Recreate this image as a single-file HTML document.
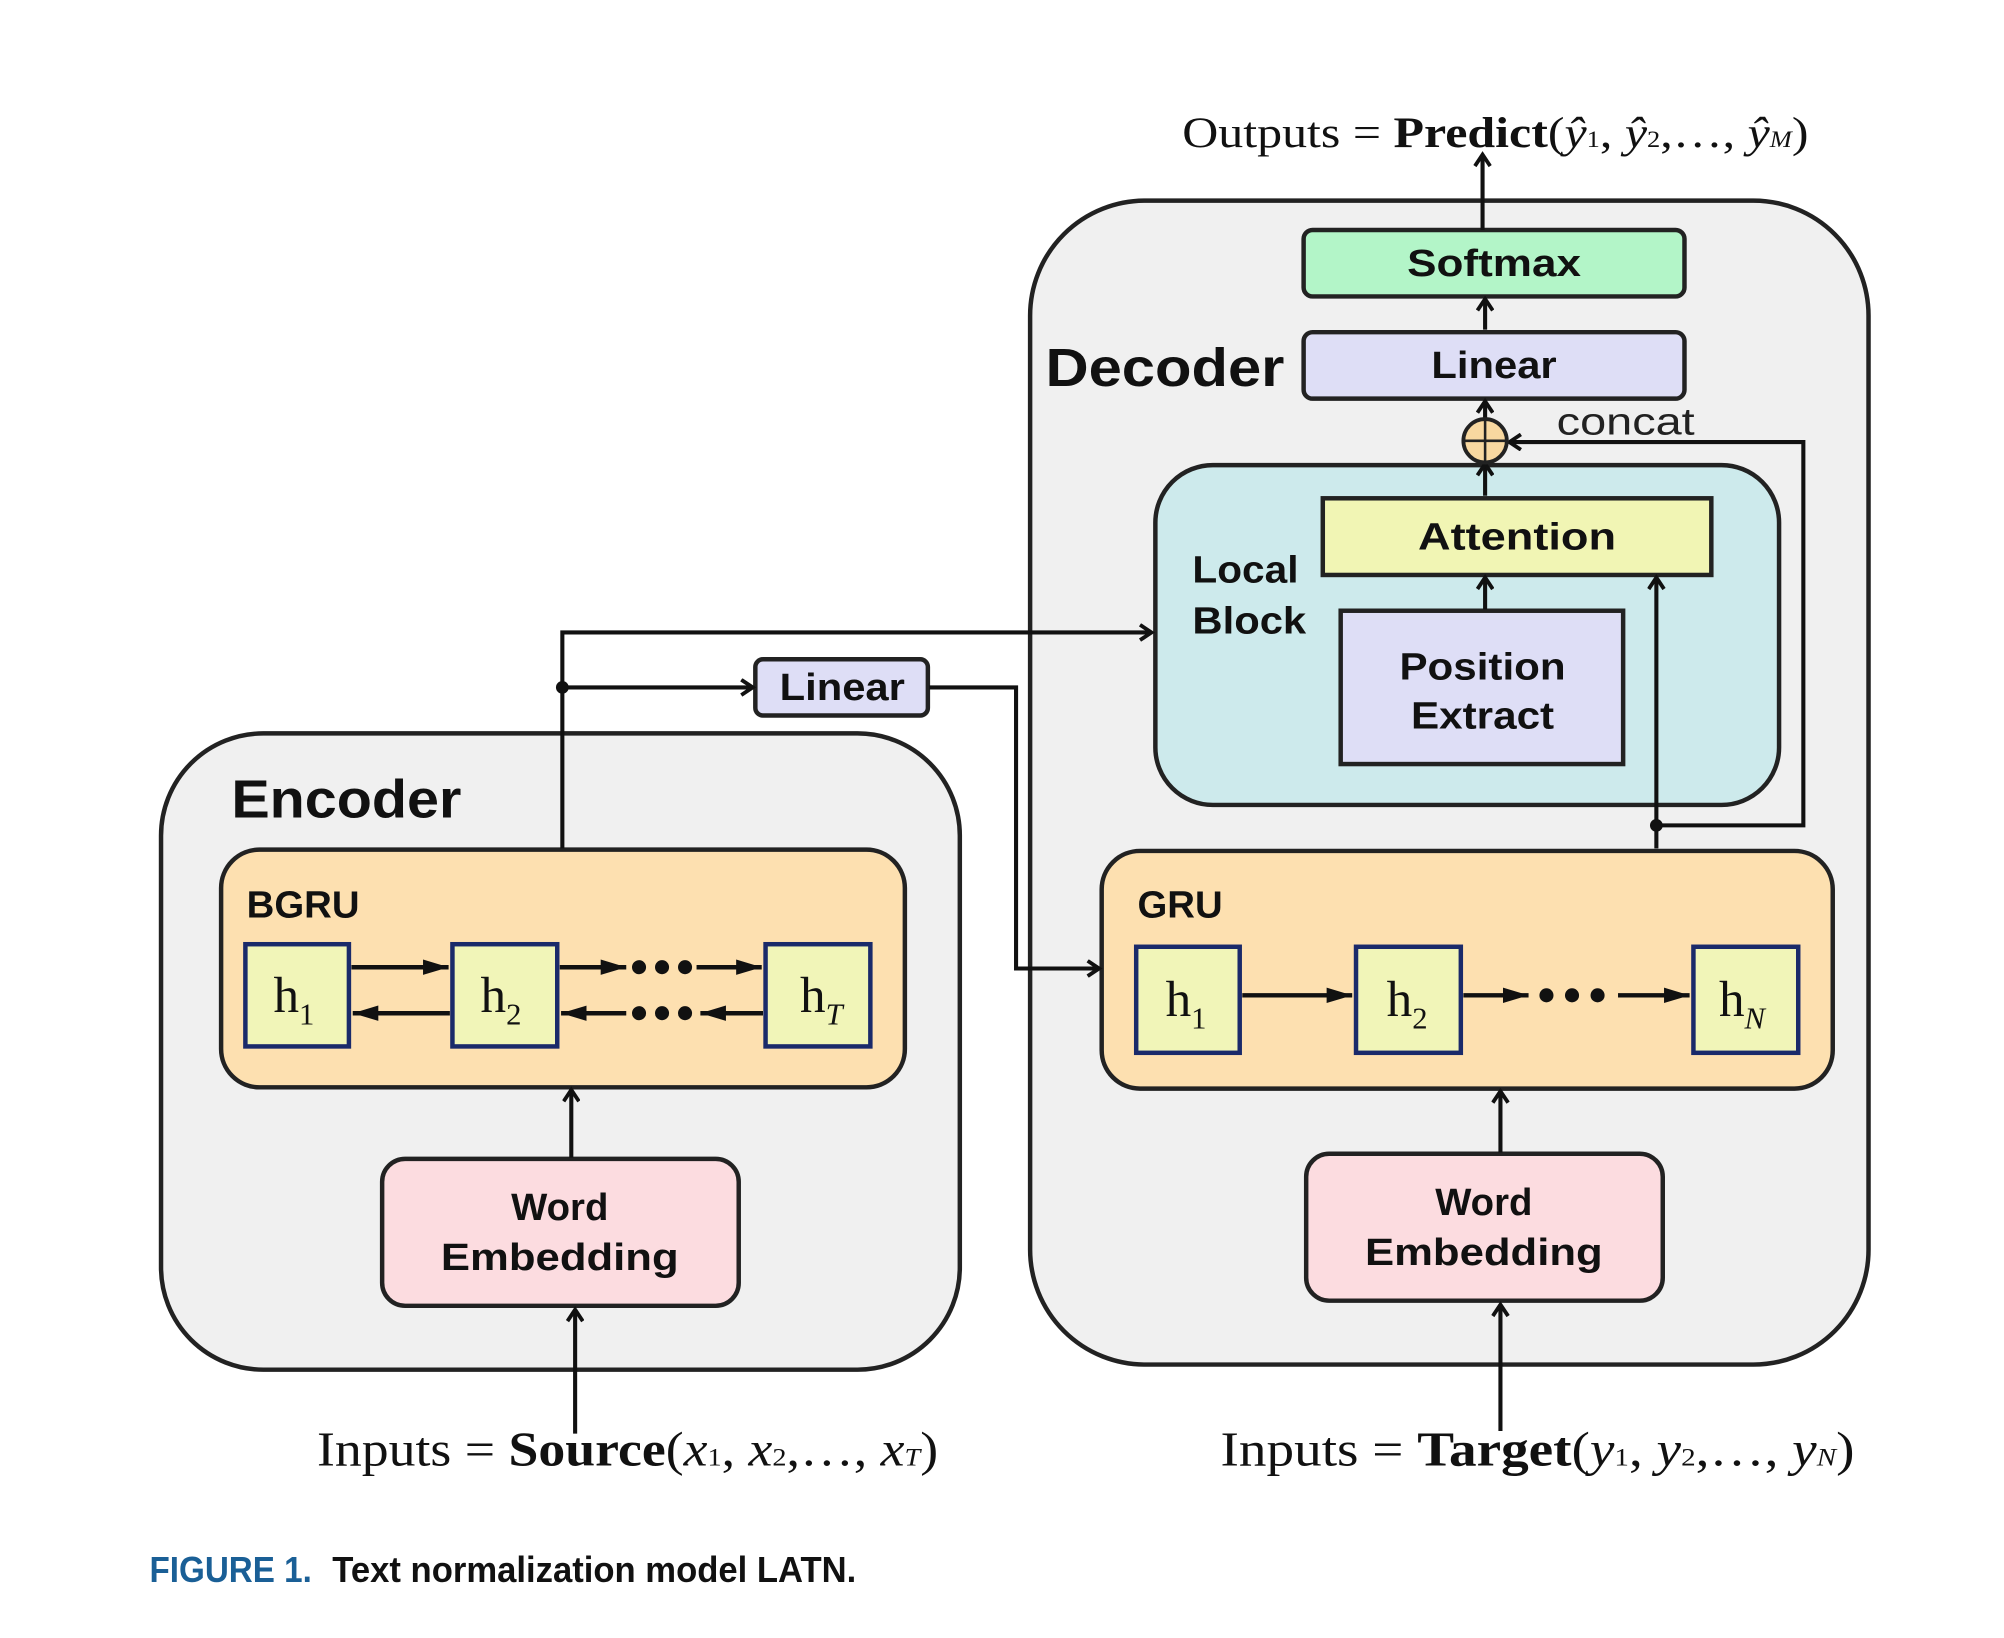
<!DOCTYPE html>
<html><head><meta charset="utf-8"><style>
html,body{margin:0;padding:0;background:#fff;}
svg{display:block;}
.b{font-family:"Liberation Sans",sans-serif;font-weight:bold;fill:#111;}
.s{font-family:"Liberation Serif",serif;fill:#111;}
</style></head><body>
<svg width="2004" height="1638" viewBox="0 0 1568 1282" preserveAspectRatio="none" xmlns="http://www.w3.org/2000/svg">
<defs>
<marker id="o" markerWidth="14" markerHeight="14" refX="11" refY="7" orient="auto" markerUnits="userSpaceOnUse">
<path d="M2,1 L11,7 L2,13" fill="none" stroke="#111" stroke-width="3"/></marker>
<marker id="f" markerWidth="22" markerHeight="14" refX="20" refY="7" orient="auto" markerUnits="userSpaceOnUse">
<path d="M0,1 L20,7 L0,13 Z" fill="#111"/></marker>
</defs>
<rect width="1568" height="1282" fill="#fff"/>
<rect x="806" y="157" width="656" height="911" rx="90" fill="#f0f0f0" stroke="#222" stroke-width="3.5"/>
<rect x="126" y="574" width="625" height="498" rx="80" fill="#f0f0f0" stroke="#222" stroke-width="3.5"/>
<text x="925" y="115" class="s" font-size="34" textLength="490" lengthAdjust="spacingAndGlyphs">Outputs = <tspan font-weight="bold">Predict</tspan>(<tspan font-style="italic">ŷ</tspan><tspan font-size="18">1</tspan>, <tspan font-style="italic">ŷ</tspan><tspan font-size="18">2</tspan>,…, <tspan font-style="italic">ŷ</tspan><tspan font-size="18" font-style="italic">M</tspan>)</text>
<rect x="1020" y="180" width="298" height="52" rx="7" fill="#b3f5c8" stroke="#222" stroke-width="3.5"/>
<text x="1169" y="216" class="b" font-size="30" text-anchor="middle" textLength="136" lengthAdjust="spacingAndGlyphs">Softmax</text>
<rect x="1020" y="260" width="298" height="52" rx="7" fill="#dedef6" stroke="#222" stroke-width="3.5"/>
<text x="1169" y="296" class="b" font-size="30" text-anchor="middle" textLength="98" lengthAdjust="spacingAndGlyphs">Linear</text>
<text x="818" y="302" class="b" font-size="42" textLength="187" lengthAdjust="spacingAndGlyphs">Decoder</text>
<rect x="904" y="364" width="488" height="266" rx="45" fill="#cdeaec" stroke="#222" stroke-width="3.5"/>
<rect x="1035" y="390" width="304" height="60" fill="#f1f5b4" stroke="#222" stroke-width="3.5"/>
<text x="1187" y="430" class="b" font-size="30" text-anchor="middle" textLength="155" lengthAdjust="spacingAndGlyphs">Attention</text>
<rect x="1049" y="478" width="221" height="120" fill="#dedef6" stroke="#222" stroke-width="3.5"/>
<text x="1160" y="532" class="b" font-size="30" text-anchor="middle" textLength="130" lengthAdjust="spacingAndGlyphs">Position</text>
<text x="1160" y="570" class="b" font-size="30" text-anchor="middle" textLength="112" lengthAdjust="spacingAndGlyphs">Extract</text>
<text x="933" y="456" class="b" font-size="30" textLength="83" lengthAdjust="spacingAndGlyphs">Local</text>
<text x="933" y="496" class="b" font-size="30" textLength="89" lengthAdjust="spacingAndGlyphs">Block</text>
<text x="1218" y="340" font-family="Liberation Sans,sans-serif" font-size="30" fill="#222" textLength="108" lengthAdjust="spacingAndGlyphs">concat</text>
<rect x="862" y="666" width="572" height="186" rx="30" fill="#fde0b0" stroke="#222" stroke-width="3.5"/>
<text x="890" y="718" class="b" font-size="30">GRU</text>
<g stroke="#1a2a6a" stroke-width="3.5" fill="#f1f5b8">
<rect x="889" y="741" width="81" height="83"/><rect x="1061" y="741" width="82" height="83"/><rect x="1325" y="741" width="82" height="83"/>
</g>
<g class="s" font-size="40">
<text x="912" y="795">h<tspan font-size="24" dy="10">1</tspan></text>
<text x="1085" y="795">h<tspan font-size="24" dy="10">2</tspan></text>
<text x="1345" y="795">h<tspan font-size="24" dy="10" font-style="italic">N</tspan></text>
</g>
<g stroke="#111" stroke-width="3.5">
<line x1="972" y1="779" x2="1058" y2="779" marker-end="url(#f)"/>
<line x1="1145" y1="779" x2="1196" y2="779" marker-end="url(#f)"/>
<line x1="1266" y1="779" x2="1322" y2="779" marker-end="url(#f)"/>
</g>
<g fill="#111">
<circle cx="1210" cy="779" r="5.5"/><circle cx="1230" cy="779" r="5.5"/><circle cx="1250" cy="779" r="5.5"/>
</g>
<text x="181" y="640" class="b" font-size="42" textLength="180" lengthAdjust="spacingAndGlyphs">Encoder</text>
<rect x="173" y="665" width="535" height="186" rx="30" fill="#fde0b0" stroke="#222" stroke-width="3.5"/>
<text x="193" y="718" class="b" font-size="30">BGRU</text>
<g stroke="#1a2a6a" stroke-width="3.5" fill="#f1f5b8">
<rect x="192" y="739" width="81" height="80"/><rect x="354" y="739" width="82" height="80"/><rect x="599" y="739" width="82" height="80"/>
</g>
<g class="s" font-size="40">
<text x="214" y="792">h<tspan font-size="24" dy="10">1</tspan></text>
<text x="376" y="792">h<tspan font-size="24" dy="10">2</tspan></text>
<text x="626" y="792">h<tspan font-size="24" dy="10" font-style="italic">T</tspan></text>
</g>
<g stroke="#111" stroke-width="3.5">
<line x1="275" y1="757" x2="351" y2="757" marker-end="url(#f)"/>
<line x1="352" y1="793" x2="276" y2="793" marker-end="url(#f)"/>
<line x1="438" y1="757" x2="490" y2="757" marker-end="url(#f)"/>
<line x1="545" y1="757" x2="596" y2="757" marker-end="url(#f)"/>
<line x1="597" y1="793" x2="548" y2="793" marker-end="url(#f)"/>
<line x1="490" y1="793" x2="439" y2="793" marker-end="url(#f)"/>
</g>
<g fill="#111">
<circle cx="500" cy="757" r="5.5"/><circle cx="518" cy="757" r="5.5"/><circle cx="536" cy="757" r="5.5"/>
<circle cx="500" cy="793" r="5.5"/><circle cx="518" cy="793" r="5.5"/><circle cx="536" cy="793" r="5.5"/>
</g>
<rect x="299" y="907" width="279" height="115" rx="18" fill="#fcdce0" stroke="#222" stroke-width="3.5"/>
<text x="438" y="955" class="b" font-size="30" text-anchor="middle">Word</text>
<text x="438" y="994" class="b" font-size="30" text-anchor="middle" textLength="186" lengthAdjust="spacingAndGlyphs">Embedding</text>
<rect x="1022" y="903" width="279" height="115" rx="18" fill="#fcdce0" stroke="#222" stroke-width="3.5"/>
<text x="1161" y="951" class="b" font-size="30" text-anchor="middle">Word</text>
<text x="1161" y="990" class="b" font-size="30" text-anchor="middle" textLength="186" lengthAdjust="spacingAndGlyphs">Embedding</text>
<rect x="591" y="516" width="135" height="44" rx="6" fill="#dedef6" stroke="#222" stroke-width="3.5"/>
<text x="659" y="548" class="b" font-size="30" text-anchor="middle" textLength="98" lengthAdjust="spacingAndGlyphs">Linear</text>
<g stroke="#111" stroke-width="3.2" fill="none">
<line x1="1160" y1="180" x2="1160" y2="121" marker-end="url(#o)"/>
<line x1="1162" y1="258" x2="1162" y2="234" marker-end="url(#o)"/>
<line x1="1162" y1="328" x2="1162" y2="314" marker-end="url(#o)"/>
<line x1="1162" y1="388" x2="1162" y2="363" marker-end="url(#o)"/>
<line x1="1162" y1="477" x2="1162" y2="452" marker-end="url(#o)"/>
<line x1="1296" y1="664" x2="1296" y2="452" marker-end="url(#o)"/>
<polyline points="1296,646 1411,646 1411,346 1181,346" marker-end="url(#o)"/>
<line x1="1174" y1="1120" x2="1174" y2="1021" marker-end="url(#o)"/>
<line x1="1174" y1="902" x2="1174" y2="854" marker-end="url(#o)"/>
<line x1="450" y1="1122" x2="450" y2="1025" marker-end="url(#o)"/>
<line x1="447" y1="906" x2="447" y2="853" marker-end="url(#o)"/>
<polyline points="440,664 440,495 901,495" marker-end="url(#o)"/>
<line x1="440" y1="538" x2="589" y2="538" marker-end="url(#o)"/>
<polyline points="727,538 795,538 795,758 860,758" marker-end="url(#o)"/>
</g>
<circle cx="440" cy="538" r="5" fill="#111"/>
<circle cx="1296" cy="646" r="5" fill="#111"/>
<circle cx="1162" cy="345" r="17" fill="#f8d8a0" stroke="#222" stroke-width="3"/>
<line x1="1145" y1="345" x2="1179" y2="345" stroke="#222" stroke-width="2"/>
<line x1="1162" y1="328" x2="1162" y2="362" stroke="#222" stroke-width="2"/>
<text x="248" y="1147" class="s" font-size="38" textLength="486" lengthAdjust="spacingAndGlyphs">Inputs = <tspan font-weight="bold">Source</tspan>(<tspan font-style="italic">x</tspan><tspan font-size="20">1</tspan>, <tspan font-style="italic">x</tspan><tspan font-size="20">2</tspan>,…, <tspan font-style="italic">x</tspan><tspan font-size="20" font-style="italic">T</tspan>)</text>
<text x="955" y="1147" class="s" font-size="38" textLength="496" lengthAdjust="spacingAndGlyphs">Inputs = <tspan font-weight="bold">Target</tspan>(<tspan font-style="italic">y</tspan><tspan font-size="20">1</tspan>, <tspan font-style="italic">y</tspan><tspan font-size="20">2</tspan>,…, <tspan font-style="italic">y</tspan><tspan font-size="20" font-style="italic">N</tspan>)</text>
<text x="117" y="1238" font-family="Liberation Sans Narrow,Liberation Sans,sans-serif" font-weight="bold" font-size="28" fill="#1a5f96" textLength="127" lengthAdjust="spacingAndGlyphs">FIGURE 1.</text>
<text x="260" y="1238" font-family="Liberation Sans Narrow,Liberation Sans,sans-serif" font-weight="bold" font-size="28" fill="#111" textLength="410" lengthAdjust="spacingAndGlyphs">Text normalization model LATN.</text>
</svg>
</body></html>
